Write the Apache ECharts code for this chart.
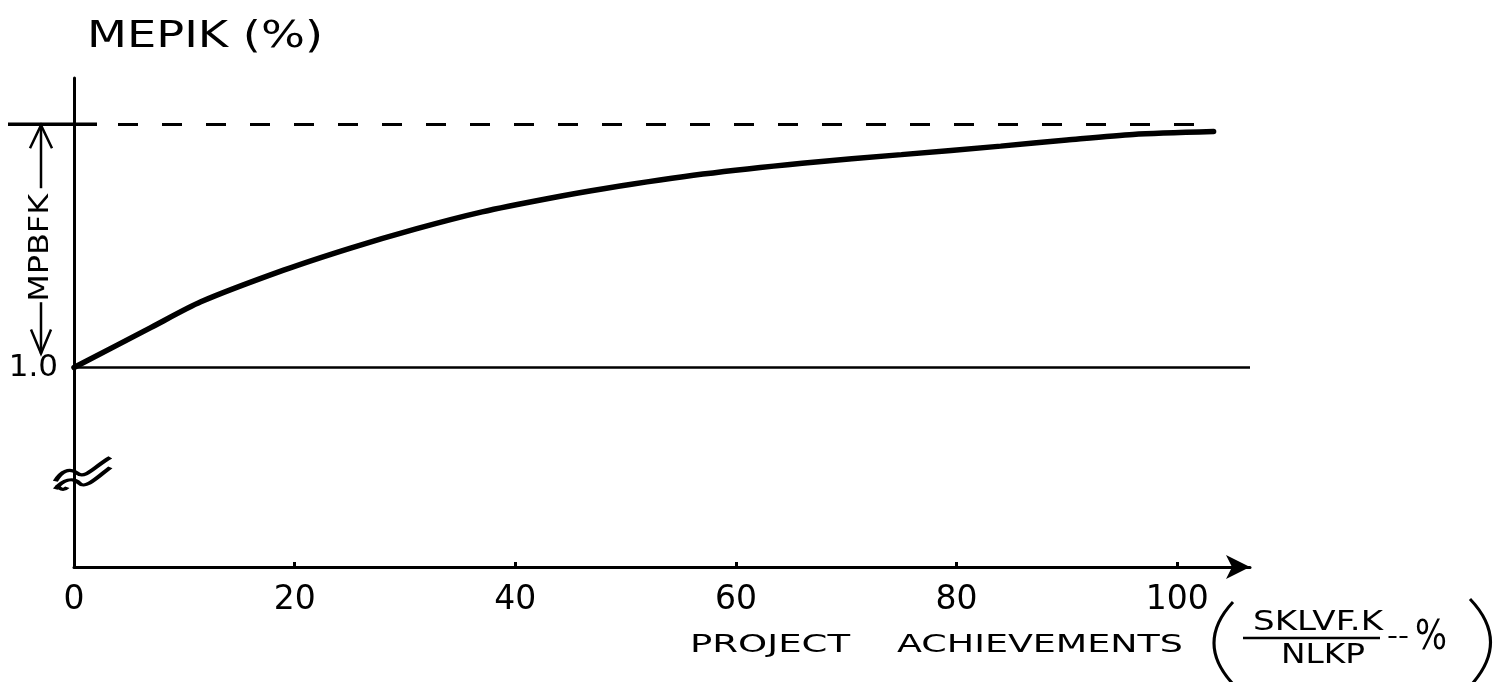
<!DOCTYPE html>
<html>
<head>
<meta charset="utf-8">
<script src="https://cdn.jsdelivr.net/npm/echarts@6/dist/echarts.min.js"></script>
<style>
  html, body { margin: 0; background: #fff; }
  #chart { width: 1500px; height: 682px; }
</style>
</head>
<body>
<div id="chart"></div>
<script>
// values
var achievement = [0, 7, 11.5, 19, 25, 31, 37, 43, 48, 57, 66, 75, 84, 90, 96, 103.3];
var mepik = [1.0, 1.165, 1.27, 1.40, 1.49, 1.57, 1.64, 1.695, 1.735, 1.795, 1.84, 1.875, 1.91, 1.935, 1.958, 1.97];
var xTicks = [0, 20, 40, 60, 80, 100];
var baseLevel = 1.0;   // the "1.0" line
var maxLevel = 2.0;    // dashed upper limit
var dashedEnd = 102.8;
var breakMark = [0.8, 0.565];

var ink = "#000";
var fontName = "DejaVu Sans";

var measureCtx = document.createElement("canvas").getContext("2d");
// text stretched to the width of the hand lettering
function letters(text, cx, cy, width, size, extra) {
  measureCtx.font = size + "px '" + fontName + "'";
  var w = measureCtx.measureText(text).width;
  var el = {
    type: "text",
    x: cx,
    y: cy,
    scaleX: width / w,
    silent: true,
    style: {
      text: text,
      fill: ink,
      fontSize: size,
      fontFamily: fontName,
      textAlign: "center",
      align: "center",
      textVerticalAlign: "middle",
      verticalAlign: "middle",
    },
  };
  return Object.assign(el, extra || {});
}

var myChart = echarts.init(document.getElementById("chart"));
var option = {
  animation: false,
  backgroundColor: "#fff",
  grid: { left: 74, right: 250, top: 78, bottom: 115, outerBoundsMode: "none" },
  xAxis: {
    type: "value",
    min: 0,
    max: 106.6,
    splitLine: { show: false },
    axisLine: {
      lineStyle: { color: ink, width: 3 },
      symbol: ["none", "arrow"],
      symbolSize: [18, 24],
    },
    axisTick: { customValues: xTicks, inside: true, length: 5, lineStyle: { color: ink, width: 3 } },
    axisLabel: { customValues: xTicks, color: ink, fontSize: 33, margin: 17, fontFamily: fontName },
  },
  yAxis: {
    type: "value",
    min: 0.18,
    max: 2.19,
    splitLine: { show: false },
    axisLine: { lineStyle: { color: ink, width: 3 } },
    axisTick: { show: false },
    axisLabel: {
      customValues: [baseLevel],
      formatter: function (v) { return v.toFixed(1); },
      color: ink,
      fontSize: 31,
      margin: 16,
      fontFamily: fontName,
    },
  },
  series: [
    {
      type: "line",
      data: achievement.map(function (x, i) { return [x, mepik[i]]; }),
      smooth: 0.25,
      symbol: "none",
      lineStyle: { color: ink, width: 5.5, cap: "round" },
      markLine: {
        silent: true,
        symbol: ["none", "none"],
        label: { show: false },
        data: [
          { yAxis: baseLevel, lineStyle: { color: ink, width: 2.5, type: "solid" } },
          [
            { coord: [0, maxLevel], lineStyle: { color: ink, width: 3, type: [20, 24] } },
            { coord: [dashedEnd, maxLevel] },
          ],
        ],
      },
      z: 3,
    },
    {
      // axis break squiggle
      type: "scatter",
      clip: false,
      silent: true,
      data: [breakMark],
      symbol: "path://M0,26 C6,16 14,12 22,18 C30,24 38,12 55,2 M0,34 C8,24 18,22 24,28 C30,34 40,24 55,12 M2,30 C4,34 8,36 12,32",
      symbolSize: [55, 32],
      itemStyle: { color: "none", borderColor: ink, borderWidth: 4, opacity: 1 },
    },
  ],
};
myChart.setOption(option);

// annotations anchored to the axis scale
var top2 = myChart.convertToPixel({ gridIndex: 0 }, [0, maxLevel]);
var base1 = myChart.convertToPixel({ gridIndex: 0 }, [0, baseLevel]);
var ax = top2[0] - 33; // x of the MPBFK dimension arrow
var thin = { stroke: ink, lineWidth: 2.5, fill: "none" };
var paren = { stroke: ink, lineWidth: 3, fill: "none" };

myChart.setOption({
  graphic: [
    { type: "line", silent: true, shape: { x1: top2[0] - 66, y1: top2[1], x2: top2[0] + 23, y2: top2[1] }, style: { stroke: ink, lineWidth: 3.5 } },
    // dimension arrow
    { type: "line", silent: true, shape: { x1: ax, y1: top2[1] + 1, x2: ax, y2: top2[1] + 64 }, style: thin },
    { type: "polyline", silent: true, shape: { points: [[ax - 11, top2[1] + 24], [ax, top2[1] + 1], [ax + 11, top2[1] + 24]] }, style: thin },
    { type: "line", silent: true, shape: { x1: ax, y1: top2[1] + 178, x2: ax, y2: base1[1] - 14 }, style: thin },
    { type: "polyline", silent: true, shape: { points: [[ax - 10, base1[1] - 38], [ax, base1[1] - 14], [ax + 10, base1[1] - 38]] }, style: thin },
    letters("MPBFK", ax, (top2[1] + base1[1]) / 2 + 2, 108, 26, { rotation: Math.PI / 2 }),
    // titles
    letters("MEPIK (%)", 205, 37, 236, 38),
    letters("PROJECT", 770, 645, 160, 25),
    letters("ACHIEVEMENTS", 1040, 645, 286, 25),
    { type: "bezierCurve", silent: true, shape: { x1: 1233, y1: 602, cpx1: 1195, cpy1: 643, x2: 1233, y2: 684 }, style: paren },
    letters("SKLVF.K", 1318, 623, 130, 27),
    { type: "line", silent: true, shape: { x1: 1243, y1: 638, x2: 1380, y2: 638 }, style: { stroke: ink, lineWidth: 2.5 } },
    letters("NLKP", 1323, 656, 84, 27),
    letters("--", 1398, 638, 22, 24),
    letters("%", 1431, 639, 32, 40),
    { type: "bezierCurve", silent: true, shape: { x1: 1470, y1: 599, cpx1: 1510, cpy1: 641, x2: 1472, y2: 684 }, style: paren },
  ],
});
</script>
</body>
</html>
